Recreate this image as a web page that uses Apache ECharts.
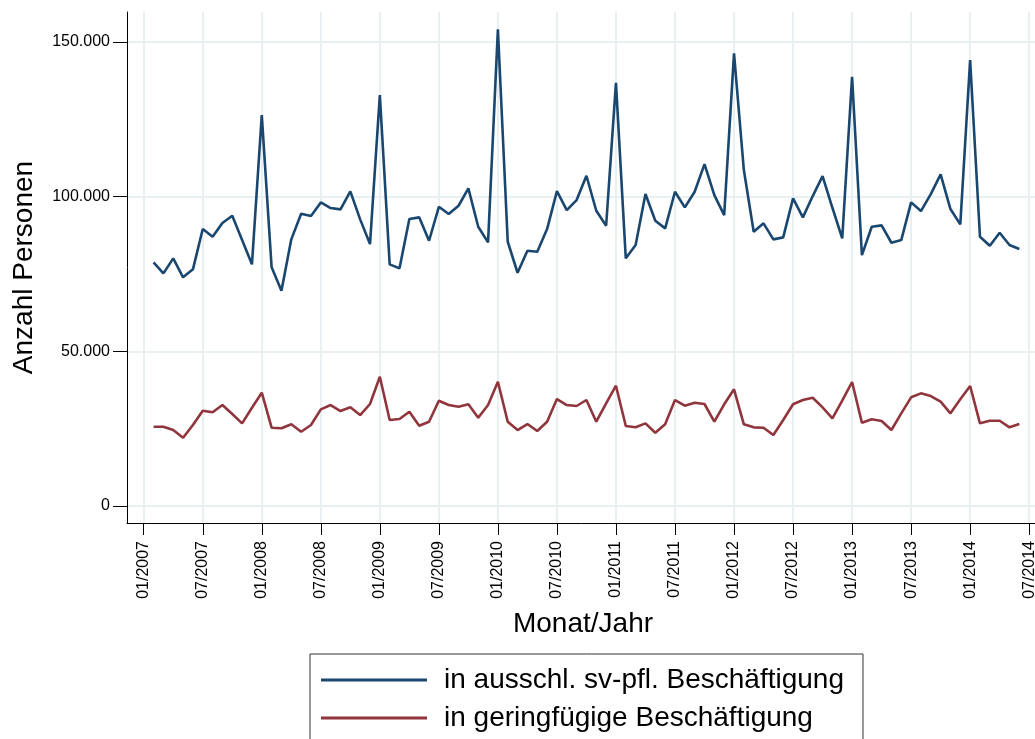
<!DOCTYPE html>
<html>
<head>
<meta charset="utf-8">
<script src="https://cdn.jsdelivr.net/npm/echarts@6/dist/echarts.min.js"></script>
<style>
  html, body { margin: 0; padding: 0; background: #fff; }
  #chart { width: 1035px; height: 739px; }
</style>
</head>
<body>
<div id="chart"></div>
<script>
// months 02/2007 .. 06/2014
const months = [];
for (let y = 2007; y <= 2014; y++) {
  for (let m = 1; m <= 12; m++) {
    if ((y === 2007 && m < 2) || (y === 2014 && m > 6)) continue;
    months.push((m < 10 ? '0' + m : '' + m) + '/' + y);
  }
}

const svPflichtig = [
  78760, 75210, 80060, 73920, 76500, 89530, 87040, 91470, 93820, 85970, 78120,
  126370, 77150, 69580, 86200, 94470, 93730, 98150, 96310, 95890, 101710, 92660, 84680,
  132830, 78120, 76820, 92760, 93310, 85750, 96730, 94370, 97060, 102680, 90270, 85230,
  154070, 85420, 75400, 82510, 82190, 89530, 101810, 95670, 98900, 106760, 95440, 90600,
  136810, 80060, 84360, 100840, 92210, 89750, 101580, 96540, 101580, 110530, 100520, 94050,
  146310, 108600, 88660, 91370, 86200, 86840, 99450, 93310, 100190, 106660, 96410, 86520,
  138750, 81120, 90270, 90720, 85100, 85970, 98150, 95340, 100840, 107200, 95990, 91040,
  144150, 87040, 84130, 88330, 84360, 83060
];

const geringfuegig = [
  25630, 25630, 24560, 22080, 26180, 30800, 30280, 32640, 29730, 26720, 31770,
  36620, 25310, 25110, 26400, 24010, 26180, 31250, 32640, 30700, 31900, 29410, 32970,
  41790, 27800, 28120, 30480, 25950, 27250, 34030, 32640, 32090, 32870, 28540, 32640,
  40170, 27250, 24560, 26500, 24240, 27250, 34580, 32640, 32320, 34260, 27250, 33190,
  38880, 25860, 25430, 26720, 23690, 26400, 34260, 32420, 33390, 32970, 27250, 32870,
  37720, 26400, 25430, 25310, 22950, 27800, 32870, 34260, 35000, 31900, 28340, 34030,
  40080, 26920, 28020, 27470, 24560, 29960, 35130, 36420, 35550, 33710, 29960, 34480,
  38780, 26720, 27570, 27570, 25430, 26500
];

const xTickLabels = [
  '01/2007', '07/2007', '01/2008', '07/2008', '01/2009', '07/2009', '01/2010', '07/2010',
  '01/2011', '07/2011', '01/2012', '07/2012', '01/2013', '07/2013', '01/2014', '07/2014'
];
const yTickValues = [0, 50000, 100000, 150000];

const seriesNames = ['in ausschl. sv-pfl. Beschäftigung', 'in geringfügige Beschäftigung'];

// month label -> months since 01/2007
function monthIndex(label) {
  const parts = label.split('/');
  return (Number(parts[1]) - 2007) * 12 + Number(parts[0]) - 1;
}
function indexLabel(idx) {
  const m = idx % 12 + 1;
  return (m < 10 ? '0' + m : m) + '/' + (2007 + Math.floor(idx / 12));
}
function germanNumber(v) {
  return String(Math.round(v)).replace(/\B(?=(\d{3})+(?!\d))/g, '.');
}

const font = '"Liberation Sans", Arial, sans-serif';
const gridColor = '#e8f0f2';
const xTicks = xTickLabels.map(monthIndex);

const chart = echarts.init(document.getElementById('chart'));
chart.setOption({
  backgroundColor: '#fff',
  animation: false,
  textStyle: { fontFamily: font },
  grid: {
    left: 127,
    top: 12,
    width: 912,
    height: 511,
    containLabel: false,
    outerBoundsMode: 'none'
  },
  xAxis: {
    type: 'value',
    min: -1.7,
    max: 91,
    name: 'Monat/Jahr',
    nameLocation: 'middle',
    nameGap: 87,
    nameTextStyle: { fontSize: 28, color: '#000', fontFamily: font },
    axisLine: { onZero: false, lineStyle: { color: '#000', width: 1 } },
    axisTick: { length: 12, lineStyle: { color: '#000' }, customValues: xTicks },
    axisLabel: {
      rotate: 90,
      margin: 18,
      fontSize: 16,
      color: '#000',
      fontFamily: font,
      customValues: xTicks,
      formatter: (v) => indexLabel(Math.round(v))
    },
    splitLine: { show: true, lineStyle: { color: gridColor, width: 2 } }
  },
  yAxis: {
    type: 'value',
    min: -5500,
    max: 159700,
    name: 'Anzahl Personen',
    nameLocation: 'middle',
    nameGap: 89,
    nameTextStyle: { fontSize: 28, color: '#000', fontFamily: font },
    axisLine: { show: true, onZero: false, lineStyle: { color: '#000', width: 1 } },
    axisTick: { show: true, length: 14, lineStyle: { color: '#000' }, customValues: yTickValues },
    axisLabel: {
      margin: 17,
      fontSize: 16,
      color: '#000',
      fontFamily: font,
      customValues: yTickValues,
      formatter: (v) => germanNumber(v)
    },
    splitLine: { show: true, lineStyle: { color: gridColor, width: 2 } }
  },
  legend: {
    orient: 'vertical',
    left: 310,
    top: 654,
    height: 120,
    padding: [11, 19, 11, 11],
    itemWidth: 106,
    itemHeight: 3,
    itemGap: 8,
    icon: 'rect',
    borderColor: '#333',
    borderWidth: 1,
    backgroundColor: '#fff',
    textStyle: { fontSize: 28, lineHeight: 30, color: '#000', fontFamily: font, padding: [0, 0, 0, 12] },
    data: seriesNames
  },
  series: [
    {
      name: seriesNames[0],
      type: 'line',
      showSymbol: false,
      color: '#1a476f',
      lineStyle: { width: 2.6, color: '#1a476f' },
      data: months.map((m, i) => [monthIndex(m), svPflichtig[i]])
    },
    {
      name: seriesNames[1],
      type: 'line',
      showSymbol: false,
      color: '#90353b',
      lineStyle: { width: 2.6, color: '#90353b' },
      data: months.map((m, i) => [monthIndex(m), geringfuegig[i]])
    }
  ]
});
</script>
</body>
</html>
